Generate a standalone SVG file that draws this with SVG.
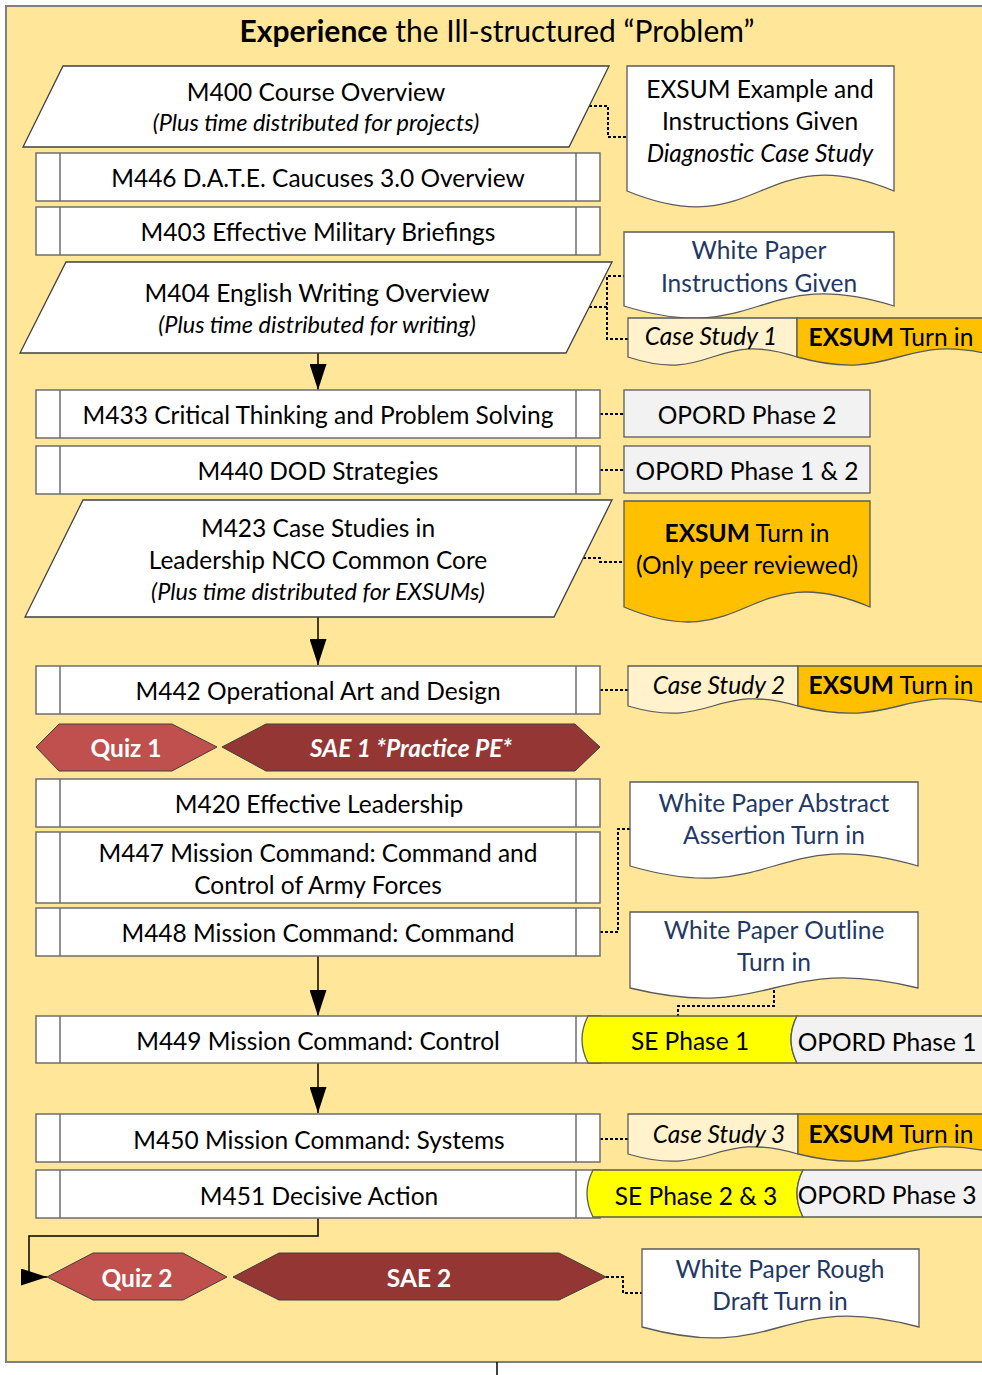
<svg xmlns="http://www.w3.org/2000/svg" width="982" height="1375" viewBox="0 0 982 1375">
<defs>
<style>
.bg{fill:#FFE699;stroke:#7F7F7F;stroke-width:2}
.box{fill:#fff;stroke:#6E6E6E;stroke-width:1.5}
.in{stroke:#6E6E6E;stroke-width:1.5}
.para{fill:#fff;stroke:#404040;stroke-width:1.3}
.doc{stroke:#5A5A5A;stroke-width:1.3}
.w{fill:#fff}
.cs{fill:#FFF2CC}
.ex{fill:#FFC000}
.op{fill:#F2F2F2}
.se{fill:#FFFF00}
.quiz{fill:#C0504D;stroke:#3F3F3F;stroke-width:1}
.sae{fill:#943634;stroke:#3F3F3F;stroke-width:1}
text{font-family:Lato,'Liberation Sans',sans-serif;font-size:24.5px;text-anchor:middle;dominant-baseline:central;fill:#000}
.i{font-style:italic;font-size:23.5px}
.ci{font-style:italic}
.b{font-weight:bold}
.wp{fill:#1F3864}
.ht{fill:#fff;font-weight:bold}
.title{font-size:30px}
.dot{fill:none;stroke:#000;stroke-width:2;stroke-dasharray:3 2}
.conn{fill:none;stroke:#000;stroke-width:1.5}
</style>
<marker id="arr" viewBox="0 0 26 17" refX="26" refY="8.5" markerWidth="26" markerHeight="17" markerUnits="userSpaceOnUse" orient="auto">
<path d="M0,0 L26,8.5 L0,17 Z" fill="#000"/>
</marker>
</defs>

<rect class="bg" x="6" y="6" width="990" height="1356"/>
<text class="title" x="497" y="30"><tspan class="b">Experience</tspan> the Ill-structured “Problem”</text>

<g id="connectors">
<path class="conn" d="M318,353 V390" marker-end="url(#arr)"/>
<path class="conn" d="M318,617 V665" marker-end="url(#arr)"/>
<path class="conn" d="M318,956 V1016" marker-end="url(#arr)"/>
<path class="conn" d="M318,1063 V1113" marker-end="url(#arr)"/>
<path class="conn" d="M318,1218 V1236 H29 V1277 H47" marker-end="url(#arr)"/>
<path class="conn" d="M497,1362 V1375"/>
<path class="dot" d="M589,106 H608 V137 H627"/>
<path class="dot" d="M589,307 H607 V276 H624"/>
<path class="dot" d="M607,307 V339 H628"/>
<path class="dot" d="M600,414 H624"/>
<path class="dot" d="M600,470 H624"/>
<path class="dot" d="M583,558 H600 V562 H624"/>
<path class="dot" d="M600,690 H628"/>
<path class="dot" d="M600,932 H618 V829 H630"/>
<path class="dot" d="M774,990 V1006 H678 V1016"/>
<path class="dot" d="M600,1139 H628"/>
<path class="dot" d="M606,1277 H623 V1293 H642"/>
</g>

<g id="m400">
<polygon class="para" points="63,66 609,66 569,147 23,147"/>
<text x="316" y="91">M400 Course Overview</text>
<text class="i" x="316" y="122">(Plus time distributed for projects)</text>
</g>
<g id="m446">
<rect class="box" x="36" y="153" width="564" height="48"/>
<path class="in" d="M60,153 V201 M576,153 V201"/>
<text x="318" y="177">M446 D.A.T.E. Caucuses 3.0 Overview</text>
</g>
<g id="m403">
<rect class="box" x="36" y="207" width="564" height="48"/>
<path class="in" d="M60,207 V255 M576,207 V255"/>
<text x="318" y="231">M403 Effective Military Briefings</text>
</g>
<g id="m404">
<polygon class="para" points="66,262 612,262 566,353 20,353"/>
<text x="317" y="292">M404 English Writing Overview</text>
<text class="i" x="317" y="324">(Plus time distributed for writing)</text>
</g>
<g id="m433">
<rect class="box" x="36" y="390" width="564" height="48"/>
<path class="in" d="M60,390 V438 M576,390 V438"/>
<text x="318" y="414">M433 Critical Thinking and Problem Solving</text>
</g>
<g id="m440">
<rect class="box" x="36" y="446" width="564" height="48"/>
<path class="in" d="M60,446 V494 M576,446 V494"/>
<text x="318" y="470">M440 DOD Strategies</text>
</g>
<g id="m423">
<polygon class="para" points="83,500 612,500 554,617 25,617"/>
<text x="318" y="527">M423 Case Studies in</text>
<text x="318" y="559">Leadership NCO Common Core</text>
<text class="i" x="318" y="591">(Plus time distributed for EXSUMs)</text>
</g>
<g id="m442">
<rect class="box" x="36" y="666" width="564" height="48"/>
<path class="in" d="M60,666 V714 M576,666 V714"/>
<text x="318" y="690">M442 Operational Art and Design</text>
</g>
<g id="quiz1">
<polygon class="quiz" points="36,747 59,724 172,724 217,747 172,771 59,771"/>
<text class="ht" x="126" y="747">Quiz 1</text>
</g>
<g id="sae1">
<polygon class="sae" points="222,747 266,724 575,724 600,747 575,771 266,771"/>
<text class="ht ci" x="411" y="747">SAE 1 *Practice PE*</text>
</g>
<g id="m420">
<rect class="box" x="36" y="779" width="564" height="48"/>
<path class="in" d="M60,779 V827 M576,779 V827"/>
<text x="319" y="803">M420 Effective Leadership</text>
</g>
<g id="m447">
<rect class="box" x="36" y="832" width="564" height="71"/>
<path class="in" d="M60,832 V903 M576,832 V903"/>
<text x="318" y="852">M447 Mission Command: Command and</text>
<text x="318" y="884">Control of Army Forces</text>
</g>
<g id="m448">
<rect class="box" x="36" y="908" width="564" height="48"/>
<path class="in" d="M60,908 V956 M576,908 V956"/>
<text x="318" y="932">M448 Mission Command: Command</text>
</g>
<g id="m449">
<rect class="box" x="36" y="1016" width="564" height="47"/>
<path class="in" d="M60,1016 V1063 M576,1016 V1063"/>
<text x="318" y="1040">M449 Mission Command: Control</text>
</g>
<g id="m450">
<rect class="box" x="36" y="1114" width="564" height="48"/>
<path class="in" d="M60,1114 V1162 M576,1114 V1162"/>
<text x="319" y="1139">M450 Mission Command: Systems</text>
</g>
<g id="m451">
<rect class="box" x="36" y="1170" width="564" height="48"/>
<path class="in" d="M60,1170 V1218 M576,1170 V1218"/>
<text x="319" y="1195">M451 Decisive Action</text>
</g>
<g id="quiz2">
<polygon class="quiz" points="47,1277 93,1253 183,1253 227,1277 183,1300 93,1300"/>
<text class="ht" x="137" y="1277">Quiz 2</text>
</g>
<g id="sae2">
<polygon class="sae" points="233,1277 279,1253 559,1253 606,1277 559,1300 279,1300"/>
<text class="ht" x="419" y="1277">SAE 2</text>
</g>

<g id="exsum-example">
<path class="doc w" d="M627,66 H894 V191 C760.5,136 760.5,246 627,191 Z"/>
<text x="760" y="88">EXSUM Example and</text>
<text x="760" y="120">Instructions Given</text>
<text class="ci" x="760" y="152">Diagnostic Case Study</text>
</g>
<g id="wp-instructions">
<path class="doc w" d="M624,232 H894 V306 C759,264 759,348 624,306 Z"/>
<text class="wp" x="759" y="249">White Paper</text>
<text class="wp" x="759" y="282">Instructions Given</text>
</g>
<g id="case-study-1">
<path class="doc cs" d="M628,318 H797 V357 C712.5,329 712.5,385 628,357 Z"/>
<text class="ci" x="711" y="335">Case Study 1</text>
</g>
<g id="exsum-1">
<path class="doc ex" d="M797,318 H1000 V357 C898.5,329 898.5,385 797,357 Z"/>
<text x="891" y="336"><tspan class="b">EXSUM</tspan> Turn in</text>
</g>
<g id="opord-2">
<rect class="doc op" x="624" y="390" width="246" height="47"/>
<text x="747" y="414">OPORD Phase 2</text>
</g>
<g id="opord-12">
<rect class="doc op" x="624" y="446" width="246" height="47"/>
<text x="747" y="470">OPORD Phase 1 &amp; 2</text>
</g>
<g id="exsum-peer">
<path class="doc ex" d="M624,501 H870 V607 C747,555 747,659 624,607 Z"/>
<text x="747" y="532"><tspan class="b">EXSUM</tspan> Turn in</text>
<text x="747" y="564">(Only peer reviewed)</text>
</g>
<g id="case-study-2">
<path class="doc cs" d="M628,666 H798 V706 C713,681 713,731 628,706 Z"/>
<text class="ci" x="719" y="684">Case Study 2</text>
</g>
<g id="exsum-2">
<path class="doc ex" d="M798,666 H1000 V706 C899,681 899,731 798,706 Z"/>
<text x="891" y="684"><tspan class="b">EXSUM</tspan> Turn in</text>
</g>
<g id="wp-abstract">
<path class="doc w" d="M630,782 H918 V866 C774,824 774,908 630,866 Z"/>
<text class="wp" x="774" y="802">White Paper Abstract</text>
<text class="wp" x="774" y="834">Assertion Turn in</text>
</g>
<g id="wp-outline">
<path class="doc w" d="M630,912 H918 V988 C774,953 774,1023 630,988 Z"/>
<text class="wp" x="774" y="929">White Paper Outline</text>
<text class="wp" x="774" y="961">Turn in</text>
</g>
<g id="se-phase-1">
<path class="doc se" d="M588,1016 H797 Q785,1039.5 797,1063 H588 Q576,1039.5 588,1016 Z"/>
<text x="690" y="1040">SE Phase 1</text>
</g>
<g id="opord-1">
<path class="doc op" d="M797,1016 H1000 V1063 H797 Q785,1039.5 797,1016 Z"/>
<text x="887" y="1041">OPORD Phase 1</text>
</g>
<g id="case-study-3">
<path class="doc cs" d="M628,1114 H798 V1154 C713,1129 713,1179 628,1154 Z"/>
<text class="ci" x="719" y="1133">Case Study 3</text>
</g>
<g id="exsum-3">
<path class="doc ex" d="M798,1114 H1000 V1154 C899,1129 899,1179 798,1154 Z"/>
<text x="891" y="1133"><tspan class="b">EXSUM</tspan> Turn in</text>
</g>
<g id="se-phase-23">
<path class="doc se" d="M593,1170 H803 Q791,1193.5 803,1217 H593 Q581,1193.5 593,1170 Z"/>
<text x="696" y="1195">SE Phase 2 &amp; 3</text>
</g>
<g id="opord-3">
<path class="doc op" d="M803,1170 H1000 V1217 H803 Q791,1193.5 803,1170 Z"/>
<text x="887" y="1194">OPORD Phase 3</text>
</g>
<g id="wp-rough">
<path class="doc w" d="M642,1249 H919 V1327 C780.5,1289 780.5,1365 642,1327 Z"/>
<text class="wp" x="780" y="1268">White Paper Rough</text>
<text class="wp" x="780" y="1300">Draft Turn in</text>
</g>
</svg>
